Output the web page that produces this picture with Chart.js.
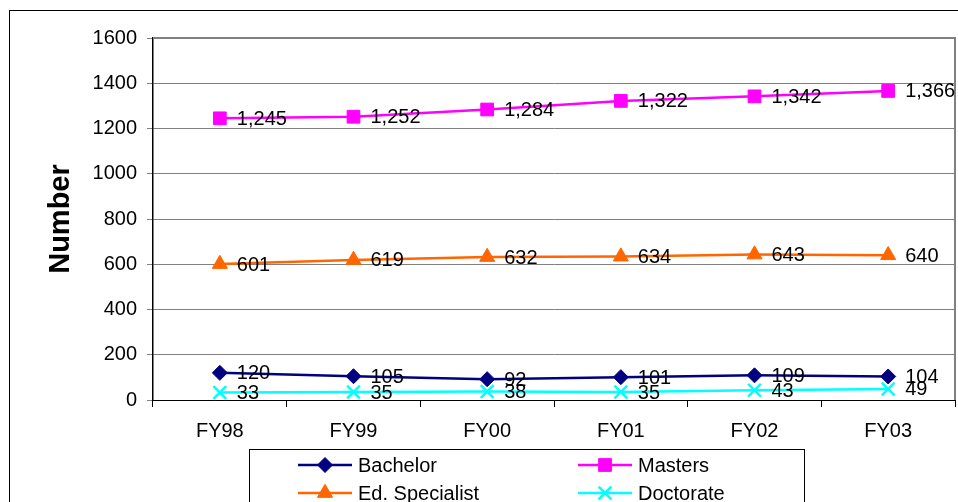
<!DOCTYPE html>
<html>
<head>
<meta charset="utf-8">
<script src="https://cdn.jsdelivr.net/npm/chart.js@4/dist/chart.umd.min.js"></script>
<style>
  html, body { margin: 0; padding: 0; background: #fff; }
  #wrap { width: 958px; height: 502px; }
</style>
</head>
<body>
<div id="wrap"><canvas id="grads" width="958" height="502"></canvas></div>
<script>
// dados
const years = ['FY98', 'FY99', 'FY00', 'FY01', 'FY02', 'FY03'];
const bachelor = [120, 105, 92, 101, 109, 104];
const masters = [1245, 1252, 1284, 1322, 1342, 1366];
const edSpecialist = [601, 619, 632, 634, 643, 640];
const doctorate = [33, 35, 38, 35, 43, 49];
const yTicks = [0, 200, 400, 600, 800, 1000, 1200, 1400, 1600];

const FONT = 'Arial, "Liberation Sans", sans-serif';

// moldura externa, moldura da área do gráfico, rótulos e legenda
const extras = {
  id: 'extras',
  beforeDraw(chart) {
    const ctx = chart.ctx;
    ctx.save();
    ctx.fillStyle = '#fff';
    ctx.fillRect(0, 0, chart.width, chart.height);
    ctx.strokeStyle = '#000';
    ctx.lineWidth = 1;
    ctx.strokeRect(9.5, 10.5, 1000, 600);
    ctx.restore();
  },
  afterDraw(chart) {
    const ctx = chart.ctx;
    const a = chart.chartArea;
    ctx.save();
    // borda cinza em cima e à direita
    ctx.strokeStyle = '#808080';
    ctx.lineWidth = 2;
    ctx.beginPath();
    ctx.moveTo(a.left, a.top);
    ctx.lineTo(a.right, a.top);
    ctx.lineTo(a.right, a.bottom);
    ctx.stroke();

    // rótulos de dados à direita de cada ponto
    ctx.fillStyle = '#000';
    ctx.font = '20px ' + FONT;
    ctx.textAlign = 'left';
    ctx.textBaseline = 'middle';
    chart.data.datasets.forEach((ds, i) => {
      chart.getDatasetMeta(i).data.forEach((pt, j) => {
        ctx.fillText(ds.data[j].toLocaleString('en-US'), pt.x + 17, pt.y + 1);
      });
    });

    // legenda em duas colunas
    ctx.fillStyle = '#fff';
    ctx.fillRect(249, 449, 555, 60);
    ctx.strokeStyle = '#000';
    ctx.lineWidth = 1;
    ctx.strokeRect(249.5, 449.5, 555, 60);
    const cols = [298, 578];
    const rows = [465, 493];
    chart.data.datasets.forEach((ds, i) => {
      const x = cols[i % 2];
      const y = rows[Math.floor(i / 2)];
      ctx.strokeStyle = ds.borderColor;
      ctx.lineWidth = 2.5;
      ctx.beginPath();
      ctx.moveTo(x, y);
      ctx.lineTo(x + 54, y);
      ctx.stroke();
      ctx.fillStyle = ds.pointBackgroundColor;
      ctx.strokeStyle = ds.pointBorderColor;
      ctx.lineWidth = ds.pointBorderWidth;
      Chart.helpers.drawPoint(ctx, {
        pointStyle: ds.pointStyle, radius: ds.pointRadius, rotation: 0, borderWidth: ds.pointBorderWidth
      }, x + 27, y);
      ctx.fillStyle = '#000';
      ctx.font = '20px ' + FONT;
      ctx.textBaseline = 'middle';
      ctx.fillText(ds.label, x + 60, y + 1);
    });
    ctx.restore();
  }
};

function serie(label, data, color, style, radius) {
  return {
    label: label,
    data: data,
    borderColor: color,
    backgroundColor: color,
    borderWidth: 2.5,
    pointStyle: style,
    pointRadius: radius,
    pointBackgroundColor: color,
    pointBorderColor: color,
    pointBorderWidth: style === 'crossRot' ? 2.5 : 1,
    tension: 0
  };
}

new Chart(document.getElementById('grads'), {
  type: 'line',
  data: {
    labels: years,
    datasets: [
      serie('Bachelor', bachelor, '#000080', 'rectRot', 7.5),
      serie('Masters', masters, '#FF00FF', 'rect', 9),
      serie('Ed. Specialist', edSpecialist, '#FF6600', 'triangle', 8.7),
      serie('Doctorate', doctorate, '#00FFFF', 'crossRot', 9)
    ]
  },
  options: {
    responsive: false,
    animation: false,
    layout: { autoPadding: false, padding: { left: 9, top: 38, right: 3, bottom: 0 } },
    plugins: {
      legend: { display: false },
      tooltip: { enabled: false }
    },
    scales: {
      x: {
        offset: true,
        afterFit: s => { s.height = 102; s.paddingLeft = 0; s.paddingRight = 0; },
        grid: { display: true, drawOnChartArea: false, drawTicks: true, tickLength: 7, color: '#000', offset: true },
        border: { display: true, color: '#000', width: 1 },
        ticks: { color: '#000', font: { family: FONT, size: 20 }, padding: 12, maxRotation: 0 }
      },
      y: {
        min: 0,
        max: 1600,
        afterFit: s => { s.width = 144; },
        afterBuildTicks: s => { s.ticks = yTicks.map(v => ({ value: v })); },
        grid: { color: '#808080', lineWidth: 1, tickLength: 6 },
        border: { display: true, color: '#000', width: 1.5 },
        ticks: { color: '#000', font: { family: FONT, size: 20 }, padding: 10, callback: v => String(v) },
        title: {
          display: true,
          text: 'Number',
          color: '#000',
          font: { family: FONT, size: 29, weight: 'bold' },
          padding: { top: 35, bottom: 0 }
        }
      }
    }
  },
  plugins: [extras]
});
</script>
</body>
</html>
